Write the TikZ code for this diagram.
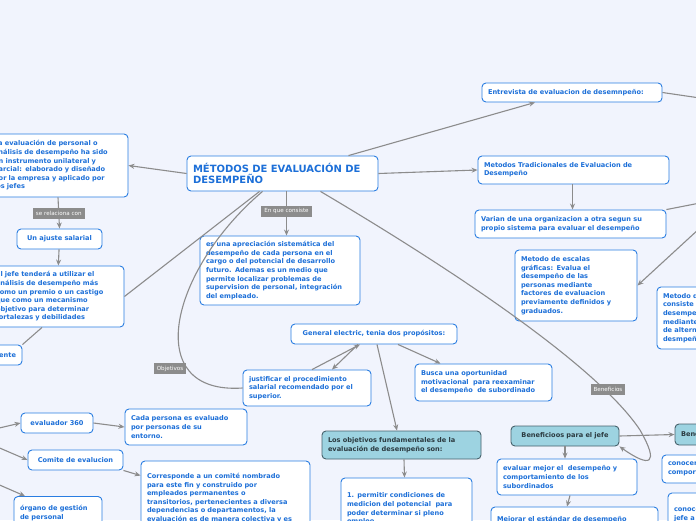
\documentclass[tikz,border=0pt]{standalone}
\usepackage{fontspec}
\setmainfont{DejaVu Sans}
\usetikzlibrary{arrows.meta,calc}
\definecolor{bg}{HTML}{F1F4FD}
\definecolor{bl}{HTML}{2A7DE1}
\definecolor{tx}{HTML}{1C6FD8}
\definecolor{tealf}{HTML}{9DD3E1}
\definecolor{teald}{HTML}{47616B}
\definecolor{lnk}{HTML}{8C8C8C}
\tikzset{
 box/.style={draw=bl,line width=0.9pt,fill=white,rounded corners=4pt,inner xsep=6pt,inner ysep=2pt,
   font=\fontsize{6.6}{8.6}\selectfont\bfseries,text=tx,align=left},
 tbox/.style={box,draw=teald,fill=tealf,text=teald!60!black},
 lab/.style={fill=lnk,text=white,font=\fontsize{5.6}{6}\selectfont,inner xsep=3pt,inner ysep=2pt,minimum height=11pt},
 con/.style={draw=lnk,line width=1.1pt},
 arr/.style={con,-{Stealth[length=6pt,width=5pt]}}
}
\begin{document}
\begin{tikzpicture}[x=1pt,y=-1pt]
\fill[bg] (0,0) rectangle (696,520);
\useasboundingbox (0,0) rectangle (696,520);
\coordinate (r1) at (700,98);
\coordinate (r2) at (700,203);
\coordinate (r3) at (700,228);
\coordinate (l1) at (-5,429);
\coordinate (l2) at (-5,446);
\coordinate (l3) at (-5,483);

\node[box,font=\fontsize{10}{11.5}\selectfont\bfseries,text width=179pt,minimum height=35pt] (main) at (282.5,173.5) {MÉTODOS DE EVALUACIÓN DE\\DESEMPEÑO};
\node[box,text width=128pt,minimum height=63pt] (A) at (58,165.5) {La evaluación de personal o\\análisis de desempeño ha sido\\un instrumento unilateral y\\parcial: elaborado y diseñado\\por la empresa y aplicado por\\los jefes};
\node[box,text width=73pt,align=center,minimum height=20pt] (B) at (59.5,239) {Un ajuste salarial};
\node[box,text width=122pt,minimum height=61pt] (C) at (57,296.5) {El jefe tenderá a utilizar el\\análisis de desempeño más\\como un premio o un castigo\\que como un mecanismo\\objetivo para determinar\\fortalezas y debilidades};
\node[box,text width=30pt,align=right,minimum height=20pt] (D) at (1,355) {ente};
\node[box,text width=148pt,minimum height=69pt] (E) at (280,270.5) {es una apreciación sistemática del\\desempeño de cada persona en el\\cargo o del potencial de desarrollo\\futuro. Ademas es un medio que\\permite localizar problemas de\\supervision de personal, integración\\del empleado.};
\node[box,text width=154pt,align=center,minimum height=20pt] (F) at (374,334) {General electric, tenia dos propósitos:};
\node[box,text width=116pt,minimum height=36pt] (G) at (307,388) {justificar el procedimiento\\salarial recomendado por el\\superior.};
\node[box,text width=125pt,minimum height=37pt] (H) at (483.5,382.5) {Busca una oportunidad\\motivacional\ \ para reexaminar\\el desempeño\ \ de subordinado};
\node[tbox,text width=147pt,minimum height=28pt] (I) at (401.5,445) {Los objetivos fundamentales de la\\evaluación de desempeño son:};
\node[box,text width=119pt,minimum height=62pt] (J) at (406.5,509) {1. permitir condiciones de\\medicion del potencial\ \ para\\poder determinar si pleno\\empleo};
\node[box,text width=60pt,align=center,minimum height=20pt] (K) at (57,423) {evaluador 360};
\node[box,text width=110pt,minimum height=36pt] (L) at (186,427) {Cada persona es evaluado\\por personas de su\\entorno.};
\node[box,text width=83pt,align=center,minimum height=20pt] (M) at (75.5,460) {Comite de evalucion};
\node[box,text width=157pt,minimum height=74pt] (N) at (225.5,498) {Corresponde a un comité nombrado\\para este fin y construido por\\empleados permanentes o\\transitorios, pertenecientes a diversa\\dependencias o departamentos, la\\evaluación es de manera colectiva y es};
\node[box,text width=76pt,minimum height=33pt] (O) at (58,513) {órgano de gestión\\de personal};
\node[box,text width=168pt,minimum height=19pt] (P) at (572,92.5) {Entrevista de evaluacion de desemnpeño:};
\node[box,text width=179pt,minimum height=28pt,font=\fontsize{6.6}{8}\selectfont\bfseries] (Q) at (573.5,170) {Metodos Tradicionales de Evaluacion de\\Desempeño};
\node[box,text width=179pt,minimum height=28pt] (R) at (570.5,224) {Varian de una organizacion a otra segun su\\propio sistema para evaluar el desempeño};
\node[box,text width=110pt,minimum height=71pt] (S) at (576,285.5) {Metodo de escalas\\gráficas: Evalua el\\desempeño de las\\personas mediante\\factores de evaluacion\\previamente definidos y\\graduados.};
\node[box,text width=91pt,minimum height=62pt] (T) at (708.5,318) {Metodo de\\consiste en\\desempeño\\mediante\\de alternar\\desmpeño};
\node[tbox,text width=96pt,align=center,minimum height=20pt] (U) at (565,436) {Beneficioos para el jefe};
\node[tbox,text width=53pt,minimum height=21pt] (V) at (707.5,434.5) {Beneficios};
\node[box,text width=128pt,minimum height=36pt] (W) at (567,477) {evaluar mejor el\ \ desempeño y\\comportamiento de los\\subordinados};
\node[box,text width=155pt,minimum height=33pt] (X) at (574.5,523.5) {Mejorar el estándar de desempeño\\\phantom{x}};
\node[box,text width=66pt,minimum height=28pt] (Y) at (701,469) {conocer\\comportamiento};
\node[box,text width=60pt,minimum height=42pt] (Z) at (704,514) {conocer al\\jefe a};

% connectors
\draw[arr] (main.west) -- (A.east);
\draw[arr] (A.south) -- node[lab]{se relaciona con} (B.north);
\draw[arr] (B) -- (C);
\draw[con] ($(main.south west)+(73,0)$) -- (C.east);
\draw[con] ($(C.south)+(-15,0)$) -- (D.north east);
\draw[arr] ($(main.south)+(4,0)$) coordinate (ms) -- node[lab,pos=0.45]{En que consiste} (ms|-E.north);
\draw[con] ($(main.south)+(-20,0)$) .. controls (170,270) and (140,395) .. (G.west);
\node[lab] at (170,368.5) {Objetivos};
\draw[arr] ($(main.south)+(38,0)$) .. controls (470,280) and (600,370) .. (640,430) .. controls (660,465) and (650,468) .. (U.south east);
\node[lab] at (608,389) {Beneficios};
\draw[arr] ($(G.north)+(5,0)$) -- ($(F.south)+(-14,0)$);
\draw[arr] ($(F.south)+(-16,0)$) -- ($(G.north)+(25,0)$);
\draw[arr] ($(F.south)+(24,0)$) -- ($(H.north)+(-43,0)$);
\draw[arr] ($(F.south)+(3,0)$) -- ($(I.north)+(-4.5,0)$);
\draw[arr] ($(I.south)+(2.5,0)$) -- ($(J.north)+(-2,0)$);
\draw[arr] ($(main.north)+(66,0)$) -- ($(P.south)+(-37,0)$);
\draw[arr] (main.east) -- (Q.west);
\draw[arr] ($(Q.south)+(-1,0)$) -- ($(R.north)+(2,0)$);
\draw[con] (R.north east) -- (r2);
\draw[arr] (r3) -- (S.east);
\draw[con] (P.east) -- (r1);
\draw[arr] (U.east) -- (V.west);
\draw[arr] (U.south) -- (W.north-|U.south);
\draw[arr] ($(W.south)+(3,0)$) -- (X.north-|W.south);
\draw[arr] (l1) -- (K.west);
\draw[arr] (l2) -- (M.west);
\draw[arr] (l3) -- ($(O.north)+(-33,0)$);
\draw[arr] (K.east) -- (L.west);
\draw[arr] (M.south east) -- ($(N.north west)+(0,15)$);
\end{tikzpicture}
\end{document}
